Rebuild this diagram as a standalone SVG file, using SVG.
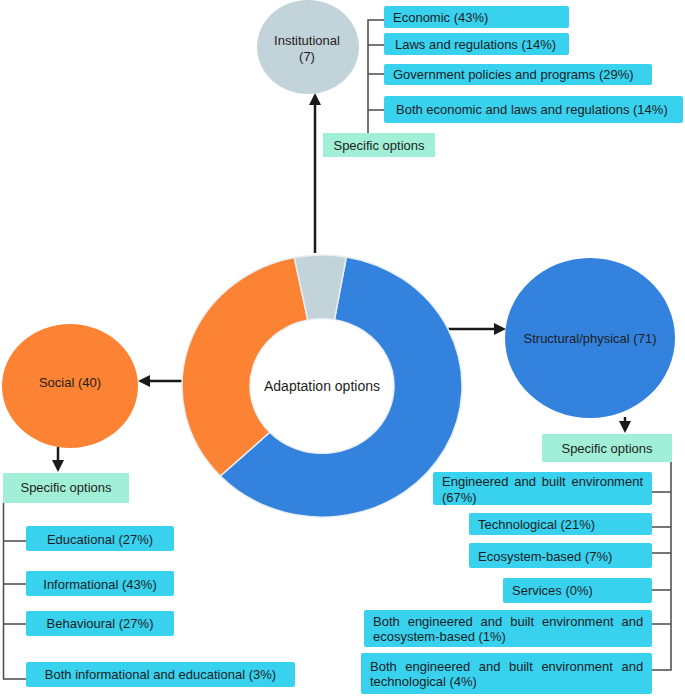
<svg xmlns="http://www.w3.org/2000/svg" width="685" height="696" viewBox="0 0 685 696">
<style>
text{font-family:"Liberation Sans",Arial,sans-serif;font-size:13px;fill:#1e1e1e}
.c{text-anchor:middle}
.box{fill:#38d1ee}
.spec{fill:#a0efd6}
.br{stroke:#4a4a4a;stroke-width:1.5;fill:none}
.arr{stroke:#1a1a1a;stroke-width:2.5;fill:none;marker-end:url(#ah)}
.seg{stroke:#e8eef2;stroke-width:1.5}
</style>
<defs>
<marker id="ah" markerUnits="userSpaceOnUse" markerWidth="12" markerHeight="12" refX="1" refY="6" orient="auto">
<path d="M0,0 L12,6 L0,12 Z" fill="#1a1a1a"/>
</marker>
</defs>
<rect width="685" height="696" fill="#ffffff"/>

<g id="connectors">
<line class="arr" x1="315" y1="253" x2="315" y2="104"/>
<line class="arr" x1="182" y1="381" x2="149" y2="381"/>
<line class="arr" x1="445" y1="329" x2="495" y2="329"/>
<line class="arr" x1="58" y1="447" x2="58" y2="461"/>
<line class="arr" x1="625" y1="417" x2="625" y2="422"/>
<path class="br" d="M368,133 V20 H384 M368,45 H384 M368,74 H384 M368,110 H384"/>
<path class="br" d="M3.5,503 V679 H26 M3.5,541 H26 M3.5,584 H26 M3.5,624 H26"/>
<path class="br" d="M671,462 V670 H652 M671,492 H652 M671,527 H652 M671,553 H652 M671,590 H652 M671,624 H652"/>
</g>

<g id="adaptation-options">
<g transform="translate(322,386) scale(1,0.936)">
<path class="seg" fill="#3282de" d="M24.31,-137.87 A140,140 0 1 1 -101.72,96.19 L-52.32,49.47 A72,72 0 1 0 12.50,-70.91 Z"/>
<path class="seg" fill="#fc8333" d="M-101.72,96.19 A140,140 0 0 1 -27.67,-137.24 L-14.23,-70.58 A72,72 0 0 0 -52.32,49.47 Z"/>
<path class="seg" fill="#c3d3da" d="M-27.67,-137.24 A140,140 0 0 1 24.31,-137.87 L12.50,-70.91 A72,72 0 0 0 -14.23,-70.58 Z"/>
</g>
<text class="c" x="322" y="391" style="font-size:14px">Adaptation options</text>
</g>

<g id="institutional">
<ellipse cx="308" cy="47" rx="51" ry="47" fill="#c3d3da"/>
<text class="c" x="307" y="44.5">Institutional</text>
<text class="c" x="307" y="60.5">(7)</text>
</g>

<g id="institutional-specific">
<rect class="spec" x="323" y="133" width="112" height="24"/>
<text class="c" x="379" y="149.5">Specific options</text>
</g>
<g id="inst-economic">
<rect class="box" x="384" y="6" width="185" height="22" rx="2"/>
<text x="393" y="22">Economic (43%)</text>
</g>
<g id="inst-laws">
<rect class="box" x="384" y="33" width="185" height="22" rx="2"/>
<text x="395" y="49">Laws and regulations (14%)</text>
</g>
<g id="inst-government">
<rect class="box" x="384" y="64" width="268" height="21" rx="2"/>
<text x="393" y="78.5">Government policies and programs (29%)</text>
</g>
<g id="inst-both">
<rect class="box" x="384" y="96" width="299" height="27" rx="2"/>
<text x="396" y="114">Both economic and laws and regulations (14%)</text>
</g>

<g id="social">
<ellipse cx="70" cy="386" rx="68" ry="62" fill="#fc8333"/>
<text class="c" x="70" y="386.5">Social (40)</text>
</g>
<g id="social-specific">
<rect class="spec" x="3" y="473" width="126" height="30"/>
<text class="c" x="66" y="492">Specific options</text>
</g>
<g id="soc-educational">
<rect class="box" x="26" y="526" width="148" height="25" rx="2"/>
<text class="c" x="100" y="543.5">Educational (27%)</text>
</g>
<g id="soc-informational">
<rect class="box" x="26" y="571" width="148" height="25" rx="2"/>
<text class="c" x="100" y="588.5">Informational (43%)</text>
</g>
<g id="soc-behavioural">
<rect class="box" x="26" y="611" width="148" height="25" rx="2"/>
<text class="c" x="100" y="628">Behavioural (27%)</text>
</g>
<g id="soc-both">
<rect class="box" x="26" y="662" width="269" height="25" rx="2"/>
<text class="c" x="160.5" y="679">Both informational and educational (3%)</text>
</g>

<g id="structural">
<ellipse cx="590" cy="338" rx="85" ry="80" fill="#3282de"/>
<text class="c" x="590" y="343">Structural/physical (71)</text>
</g>
<g id="structural-specific">
<rect class="spec" x="542" y="434" width="130" height="28"/>
<text class="c" x="607" y="452.5">Specific options</text>
</g>
<g id="str-engineered">
<rect class="box" x="433" y="472" width="219" height="33" rx="2"/>
<text x="442" y="486" style="word-spacing:2.2px">Engineered and built environment</text>
<text x="442" y="501.5">(67%)</text>
</g>
<g id="str-technological">
<rect class="box" x="469" y="513" width="183" height="22" rx="2"/>
<text x="478" y="528.5">Technological (21%)</text>
</g>
<g id="str-ecosystem">
<rect class="box" x="469" y="543" width="183" height="25" rx="2"/>
<text x="478" y="560.5">Ecosystem-based (7%)</text>
</g>
<g id="str-services">
<rect class="box" x="503" y="578" width="149" height="25" rx="2"/>
<text x="512" y="595">Services (0%)</text>
</g>
<g id="str-both-eco">
<rect class="box" x="364" y="610" width="288" height="37" rx="2"/>
<text x="373" y="626" style="word-spacing:4.3px">Both engineered and built environment and</text>
<text x="373" y="641">ecosystem-based (1%)</text>
</g>
<g id="str-both-tech">
<rect class="box" x="361" y="653" width="291" height="41" rx="2"/>
<text x="370" y="671" style="word-spacing:4.9px">Both engineered and built environment and</text>
<text x="370" y="686">technological (4%)</text>
</g>
</svg>
